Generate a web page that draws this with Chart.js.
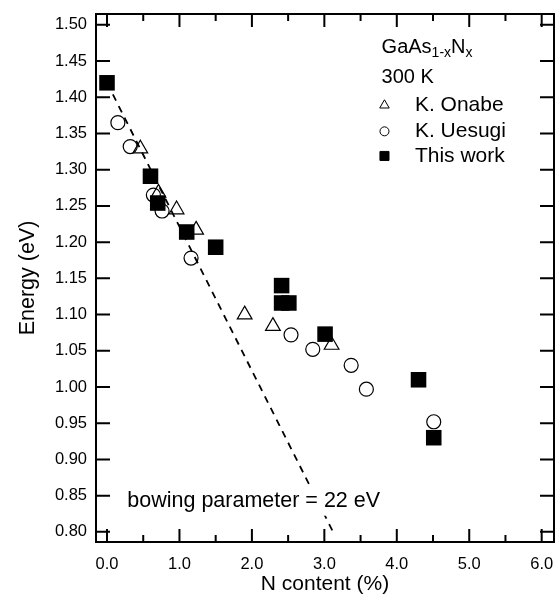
<!DOCTYPE html>
<html>
<head>
<meta charset="utf-8">
<script src="https://cdn.jsdelivr.net/npm/chart.js@4.4.0/dist/chart.umd.min.js"></script>
<style>
  html, body { margin: 0; padding: 0; background: #fff; overflow: hidden; }
  canvas { display: block; }
</style>
</head>
<body>
<canvas id="bandGapChart" width="559" height="594"></canvas>
<script>
// band gap of GaAs(1-x)N(x) vs N content
const onabeX = [0.46, 0.71, 0.96, 1.23, 1.90, 2.29, 3.10];
const onabeY = [1.329, 1.268, 1.245, 1.217, 1.100, 1.084, 1.058];

const uesugiX = [0.15, 0.32, 0.64, 0.76, 1.16, 2.54, 2.84, 3.37, 3.58, 4.51];
const uesugiY = [1.365, 1.332, 1.265, 1.243, 1.178, 1.072, 1.052, 1.030, 0.997, 0.952];

const thisWorkX = [0.00, 0.60, 0.70, 1.10, 1.50, 2.41, 2.41, 2.51, 3.01, 4.30, 4.51];
const thisWorkY = [1.420, 1.291, 1.254, 1.214, 1.193, 1.140, 1.116, 1.116, 1.073, 1.010, 0.930];

// bowing parameter = 22 eV (dashed line)
const fitX = [0.00, 3.12];
const fitY = [1.420, 0.800];

const xTicks = [0, 1, 2, 3, 4, 5, 6];
const xMinorTicks = [0.5, 1.5, 2.5, 3.5, 4.5, 5.5];
const yTicks = [0.80, 0.85, 0.90, 0.95, 1.00, 1.05, 1.10, 1.15, 1.20, 1.25, 1.30, 1.35, 1.40, 1.45, 1.50];

const FONT = "'Liberation Sans', Arial, sans-serif";
Chart.defaults.font.family = FONT;
Chart.defaults.color = '#000';

function toPoints(xs, ys) {
  return xs.map((x, i) => ({ x: x, y: ys[i] }));
}

// note sits on a white patch so the dashed line stops behind it
const notePatch = {
  id: 'notePatch',
  afterDatasetsDraw(chart) {
    const { ctx, scales: { x, y } } = chart;
    ctx.save();
    ctx.font = '21.5px ' + FONT;
    ctx.textBaseline = 'middle';
    const nx = x.getPixelForValue(0.28);
    const ny = y.getPixelForValue(0.843);
    const w = ctx.measureText('bowing parameter = 22 eV').width;
    ctx.fillStyle = '#fff';
    ctx.fillRect(nx - 2, ny - 15, w + 4, 30);
    ctx.fillStyle = '#000';
    ctx.fillText('bowing parameter = 22 eV', nx, ny);
    ctx.restore();
  }
};

// frame, inward ticks on all four sides and the legend
const decorations = {
  id: 'decorations',
  afterDraw(chart) {
    const { ctx, chartArea: a, scales: { x, y } } = chart;
    ctx.save();
    ctx.strokeStyle = '#000';
    ctx.lineWidth = 2;
    ctx.strokeRect(a.left, a.top, a.right - a.left, a.bottom - a.top);

    ctx.beginPath();
    const tickX = (v, len) => {
      const px = x.getPixelForValue(v);
      ctx.moveTo(px, a.bottom); ctx.lineTo(px, a.bottom - len);
      ctx.moveTo(px, a.top); ctx.lineTo(px, a.top + len);
    };
    xTicks.forEach(v => tickX(v, 13));
    xMinorTicks.forEach(v => tickX(v, 7));
    yTicks.forEach(v => {
      const py = y.getPixelForValue(v);
      ctx.moveTo(a.left, py); ctx.lineTo(a.left + 14, py);
      ctx.moveTo(a.right, py); ctx.lineTo(a.right - 14, py);
    });
    ctx.stroke();

    // title of the legend: GaAs1-xNx / 300 K
    ctx.fillStyle = '#000';
    ctx.textBaseline = 'middle';
    ctx.textAlign = 'left';
    let tx = x.getPixelForValue(3.79);
    const ty = y.getPixelForValue(1.469);
    const part = (txt, size, dy) => {
      ctx.font = size + 'px ' + FONT;
      ctx.fillText(txt, tx, ty + dy);
      tx += ctx.measureText(txt).width;
    };
    part('GaAs', 20, 0);
    part('1-x', 14, 6);
    part('N', 20, 0);
    part('x', 14, 6);

    ctx.font = '20px ' + FONT;
    ctx.fillText('300 K', x.getPixelForValue(3.79), y.getPixelForValue(1.428));

    // legend entries
    const mx = x.getPixelForValue(3.83);
    const lx = x.getPixelForValue(4.25);
    ctx.font = '21px ' + FONT;
    chart.data.datasets.forEach(ds => {
      if (ds.legendY === undefined) return;
      const ly = y.getPixelForValue(ds.legendY);
      ctx.fillStyle = ds.backgroundColor;
      ctx.strokeStyle = ds.borderColor;
      ctx.lineWidth = 1;
      Chart.helpers.drawPoint(ctx, {
        pointStyle: ds.pointStyle, radius: ds.legendRadius, rotation: 0, borderWidth: 1
      }, mx, ly);
      ctx.fillStyle = '#000';
      ctx.fillText(ds.label, lx, ly);
    });
    ctx.restore();
  }
};

new Chart(document.getElementById('bandGapChart'), {
  type: 'scatter',
  data: {
    datasets: [
      {
        label: 'This work',
        data: toPoints(thisWorkX, thisWorkY),
        pointStyle: 'rect',
        pointRadius: 11,
        backgroundColor: '#000',
        borderColor: '#000',
        borderWidth: 0,
        legendY: 1.319,
        legendRadius: 6.4,
        order: 0
      },
      {
        label: 'K. Uesugi',
        data: toPoints(uesugiX, uesugiY),
        pointStyle: 'circle',
        pointRadius: 7,
        backgroundColor: 'rgba(255,255,255,0)',
        borderColor: '#000',
        borderWidth: 1.2,
        legendY: 1.353,
        legendRadius: 4.5,
        order: 1
      },
      {
        label: 'K. Onabe',
        data: toPoints(onabeX, onabeY),
        pointStyle: 'triangle',
        pointRadius: 8.5,
        backgroundColor: 'rgba(255,255,255,0)',
        borderColor: '#000',
        borderWidth: 1.2,
        legendY: 1.389,
        legendRadius: 5.5,
        order: 2
      },
      {
        label: 'fit',
        data: toPoints(fitX, fitY),
        showLine: true,
        pointRadius: 0,
        borderColor: '#000',
        borderWidth: 1.8,
        borderDash: [7, 6],
        order: 3
      }
    ]
  },
  options: {
    responsive: false,
    animation: false,
    events: [],
    layout: { autoPadding: false, padding: { top: 14, right: 5, left: 0, bottom: 0 } },
    plugins: {
      legend: { display: false },
      tooltip: { enabled: false }
    },
    scales: {
      x: {
        type: 'linear',
        min: -0.152,
        max: 6.17,
        afterBuildTicks: s => { s.ticks = xTicks.map(v => ({ value: v })); },
        afterFit: s => { s.height = 52; s.paddingLeft = 0; s.paddingRight = 0; },
        grid: { display: false, drawTicks: false },
        border: { display: false },
        ticks: { autoSkip: false, maxRotation: 0, padding: 13, font: { size: 16.5 },
                 callback: v => Number(v).toFixed(1) },
        title: { display: true, text: 'N content (%)', font: { size: 21 }, padding: { top: 0, bottom: -3 } }
      },
      y: {
        type: 'linear',
        min: 0.786,
        max: 1.515,
        afterBuildTicks: s => { s.ticks = yTicks.map(v => ({ value: v })); },
        afterFit: s => { s.width = 96; s.paddingTop = 0; s.paddingBottom = 0; },
        grid: { display: false, drawTicks: false },
        border: { display: false },
        ticks: { autoSkip: false, padding: 9, font: { size: 16.5 },
                 callback: v => Number(v).toFixed(2) },
        title: { display: true, text: 'Energy (eV)', font: { size: 21.5 }, padding: { top: 15, bottom: 0 } }
      }
    }
  },
  plugins: [notePatch, decorations]
});
</script>
</body>
</html>
